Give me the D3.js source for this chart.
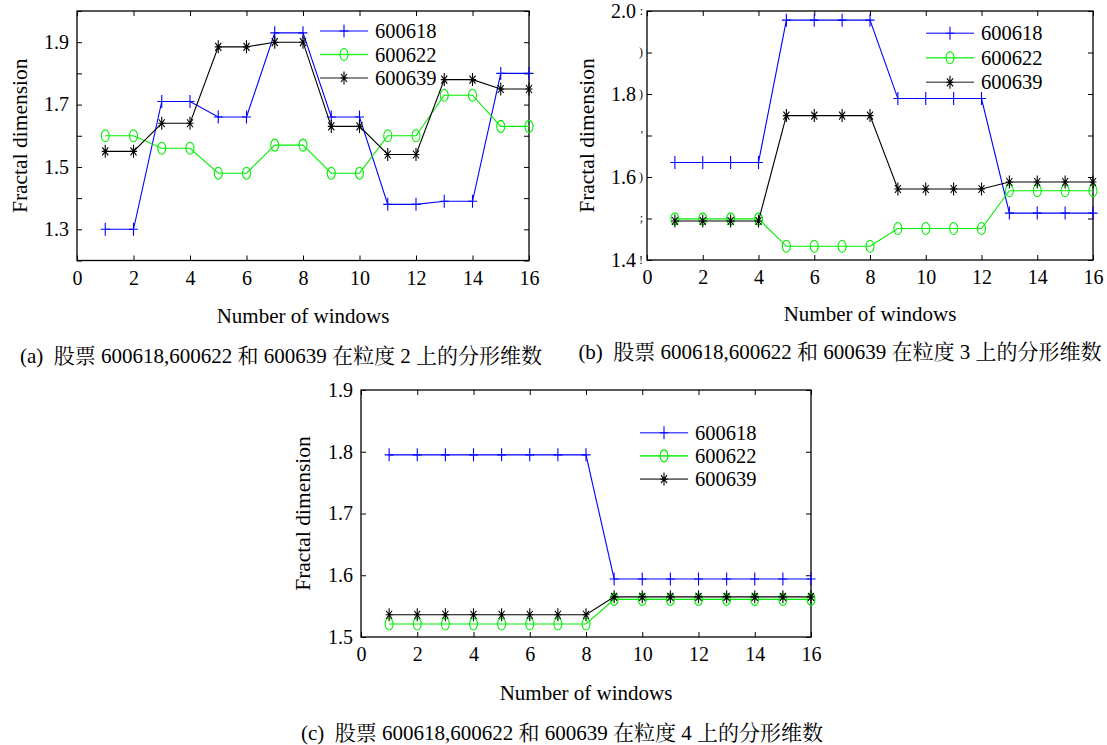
<!DOCTYPE html>
<html>
<head>
<meta charset="utf-8">
<script src="https://cdn.jsdelivr.net/npm/d3@7"></script>
<style>
  html, body { margin: 0; padding: 0; background: #fff; }
</style>
</head>
<body>
<svg id="chart" width="1107" height="745"></svg>
<script>
// ---------- data ----------
const windows = [1,2,3,4,5,6,7,8,9,10,11,12,13,14,15,16];
const seriesNames = ["600618", "600622", "600639"];
const xTicks = [0,2,4,6,8,10,12,14,16];

// (a) granularity 2
const a600618 = [1.30,1.30,1.71,1.71,1.66,1.66,1.93,1.93,1.66,1.66,1.38,1.38,1.39,1.39,1.80,1.80];
const a600622 = [1.60,1.60,1.56,1.56,1.48,1.48,1.57,1.57,1.48,1.48,1.60,1.60,1.73,1.73,1.63,1.63];
const a600639 = [1.55,1.55,1.64,1.64,1.885,1.885,1.90,1.90,1.63,1.63,1.54,1.54,1.78,1.78,1.75,1.75];
const aYTicks = [1.2,1.3,1.4,1.5,1.6,1.7,1.8,1.9,2.0];
const aYLabels = [1.3,1.5,1.7,1.9];

// (b) granularity 3
const b600618 = [1.635,1.635,1.635,1.635,1.978,1.978,1.978,1.978,1.789,1.789,1.789,1.789,1.513,1.513,1.513,1.513];
const b600622 = [1.499,1.499,1.499,1.499,1.433,1.433,1.433,1.433,1.476,1.476,1.476,1.476,1.567,1.567,1.567,1.567];
const b600639 = [1.494,1.494,1.494,1.494,1.748,1.748,1.748,1.748,1.571,1.571,1.571,1.571,1.588,1.588,1.588,1.588];
const bYTicks = [1.4,1.5,1.6,1.7,1.8,1.9,2.0];
const bYLabels = [1.4,1.6,1.8,2.0];
const bYFragments = ["!", ";", ")", "'", ")", ")", ":"];

// (c) granularity 4
const c600618 = [1.795,1.795,1.795,1.795,1.795,1.795,1.795,1.795,1.594,1.594,1.594,1.594,1.594,1.594,1.594,1.594];
const c600622 = [1.521,1.521,1.521,1.521,1.521,1.521,1.521,1.521,1.561,1.561,1.561,1.561,1.561,1.561,1.561,1.561];
const c600639 = [1.536,1.536,1.536,1.536,1.536,1.536,1.536,1.536,1.565,1.565,1.565,1.565,1.565,1.565,1.565,1.565];
const cYTicks = [1.5,1.6,1.7,1.8,1.9];
const cYLabels = [1.5,1.6,1.7,1.8,1.9];

const captionA = "(a)  股票 600618,600622 和 600639 在粒度 2 上的分形维数";
const captionB = "(b)  股票 600618,600622 和 600639 在粒度 3 上的分形维数";
const captionC = "(c)  股票 600618,600622 和 600639 在粒度 4 上的分形维数";
const xTitle = "Number of windows";
const yTitle = "Fractal dimension";

// ---------- styles ----------
const colors = ["#0000ff", "#00ee00", "#000000"];
const legendLineColors = ["#5555ff", "#33ee33", "#666666"];
const markers = ["plus", "circle", "star"];
const FONT = '"Liberation Serif", "Noto Serif CJK SC", "Noto Sans CJK SC", serif';

const svg = d3.select("#chart");

function drawMarker(g, type, color) {
  if (type === "plus") {
    g.append("path").attr("d", "M-4.5,0H4.5M0,-6.5V6.5")
      .attr("stroke", color).attr("stroke-width", 1.1).attr("fill", "none");
  } else if (type === "circle") {
    g.append("ellipse").attr("rx", 4).attr("ry", 6)
      .attr("stroke", color).attr("stroke-width", 1.1).attr("fill", "none");
  } else {
    g.append("path").attr("d", "M0,-6.5V6.5M-3.5,0H3.5M-3,-4L3,4M-3,4L3,-4")
      .attr("stroke", color).attr("stroke-width", 1.1).attr("fill", "none");
  }
}

function drawPanel(cfg) {
  const g = svg.append("g");
  const x = d3.scaleLinear().domain([0, 16]).range([cfg.left, cfg.right]);
  const y = d3.scaleLinear().domain(cfg.yDomain).range([cfg.bottom, cfg.top]);

  const tl = 5;
  const axB = d3.axisBottom(x).tickValues(xTicks).tickSize(-tl).tickFormat(d3.format("d")).tickPadding(10);
  const gb = g.append("g").attr("transform", `translate(0,${cfg.bottom})`).call(axB);
  gb.select(".domain").remove();
  gb.selectAll("text").attr("font-size", cfg.tickFont).attr("dy", "0.71em");

  const axT = d3.axisTop(x).tickValues(xTicks).tickSize(-tl).tickFormat("");
  const gt = g.append("g").attr("transform", `translate(0,${cfg.top})`).call(axT);
  gt.select(".domain").remove();

  const labelSet = new Set(cfg.yLabels.map(v => v.toFixed(1)));
  const axL = d3.axisLeft(y).tickValues(cfg.yTicks).tickSize(-tl).tickPadding(cfg.yPad)
    .tickFormat(d => labelSet.has(d.toFixed(1)) ? d.toFixed(1) : "");
  const gl = g.append("g").attr("transform", `translate(${cfg.left},0)`).call(axL);
  gl.select(".domain").remove();
  gl.selectAll("text").attr("font-size", cfg.tickFont);

  const axR = d3.axisRight(y).tickValues(cfg.yTicks).tickSize(-tl).tickFormat("");
  const gr = g.append("g").attr("transform", `translate(${cfg.right},0)`).call(axR);
  gr.select(".domain").remove();

  g.selectAll(".tick line").attr("stroke", "#000").attr("stroke-width", 1);

  // small clipped-label remnants beside the axis (panel b)
  if (cfg.fragments) {
    g.append("g").selectAll("text").data(cfg.yTicks).join("text")
      .attr("x", cfg.left - 4).attr("y", d => y(d)).attr("dy", "0.32em")
      .attr("text-anchor", "end").attr("font-size", 12)
      .text((d, i) => cfg.fragments[i]);
  }

  // frame
  g.append("rect").attr("x", cfg.left).attr("y", cfg.top)
    .attr("width", cfg.right - cfg.left).attr("height", cfg.bottom - cfg.top)
    .attr("fill", "none").attr("stroke", "#000").attr("stroke-width", 1.3);

  // series
  const line = d3.line().x((d, i) => x(windows[i])).y(d => y(d));
  cfg.series.forEach((vals, si) => {
    g.append("path").datum(vals).attr("d", line)
      .attr("fill", "none").attr("stroke", colors[si]).attr("stroke-width", 1.1);
    vals.forEach((v, i) => {
      const mg = g.append("g").attr("transform", `translate(${x(windows[i])},${y(v)})`);
      drawMarker(mg, markers[si], colors[si]);
    });
  });

  // legend
  seriesNames.forEach((name, si) => {
    const ly = cfg.legend.y + si * cfg.legend.dy;
    g.append("line").attr("x1", cfg.legend.x).attr("x2", cfg.legend.x + 48)
      .attr("y1", ly).attr("y2", ly).attr("stroke", legendLineColors[si]).attr("stroke-width", 1.6);
    const mg = g.append("g").attr("transform", `translate(${cfg.legend.x + 24},${ly})`);
    drawMarker(mg, markers[si], colors[si]);
    g.append("text").attr("x", cfg.legend.x + 55).attr("y", ly).attr("dy", "0.35em")
      .attr("font-size", cfg.legendFont).text(name);
  });

  // axis titles
  g.append("text").attr("x", (cfg.left + cfg.right) / 2).attr("y", cfg.xTitleY)
    .attr("text-anchor", "middle").attr("font-size", cfg.xTitleFont).text(xTitle);
  g.append("text").attr("transform", `translate(${cfg.yTitleX},${(cfg.top + cfg.bottom) / 2}) rotate(-90)`)
    .attr("text-anchor", "middle").attr("dy", "0.35em").attr("font-size", cfg.yTitleFont).text(yTitle);

  // caption
  g.append("text").attr("x", cfg.capX).attr("y", cfg.capY)
    .attr("text-anchor", "middle").attr("font-size", cfg.capFont)
    .style("white-space", "pre").text(cfg.caption);
}

const common = { tickFont: 20, legendFont: 20.5, xTitleFont: 21, yTitleFont: 21.5, capFont: 21 };

drawPanel(Object.assign({
  id: "a", left: 77, right: 529, top: 11, bottom: 260.5,
  yDomain: [1.2, 2.0], yTicks: aYTicks, yLabels: aYLabels, yPad: 8,
  series: [a600618, a600622, a600639],
  legend: { x: 320, y: 31, dy: 23.5 },
  xTitleY: 323, yTitleX: 19, caption: captionA, capX: 281, capY: 363
}, common));

drawPanel(Object.assign({
  id: "b", left: 647, right: 1093, top: 11, bottom: 260,
  yDomain: [1.4, 2.0], yTicks: bYTicks, yLabels: bYLabels, yPad: 11, fragments: bYFragments,
  series: [b600618, b600622, b600639],
  legend: { x: 926, y: 33.3, dy: 24.5 },
  xTitleY: 321, yTitleX: 586, caption: captionB, capX: 840, capY: 359
}, common));

drawPanel(Object.assign({
  id: "c", left: 361, right: 811, top: 390, bottom: 637,
  yDomain: [1.5, 1.9], yTicks: cYTicks, yLabels: cYLabels, yPad: 8,
  series: [c600618, c600622, c600639],
  legend: { x: 640, y: 432.7, dy: 23.2 },
  xTitleY: 700, yTitleX: 302, caption: captionC, capX: 562, capY: 740
}, common));

// force the serif family on every text element (overrides axis defaults)
svg.selectAll("text").style("font-family", FONT).style("fill", "#000");
</script>
</body>
</html>
